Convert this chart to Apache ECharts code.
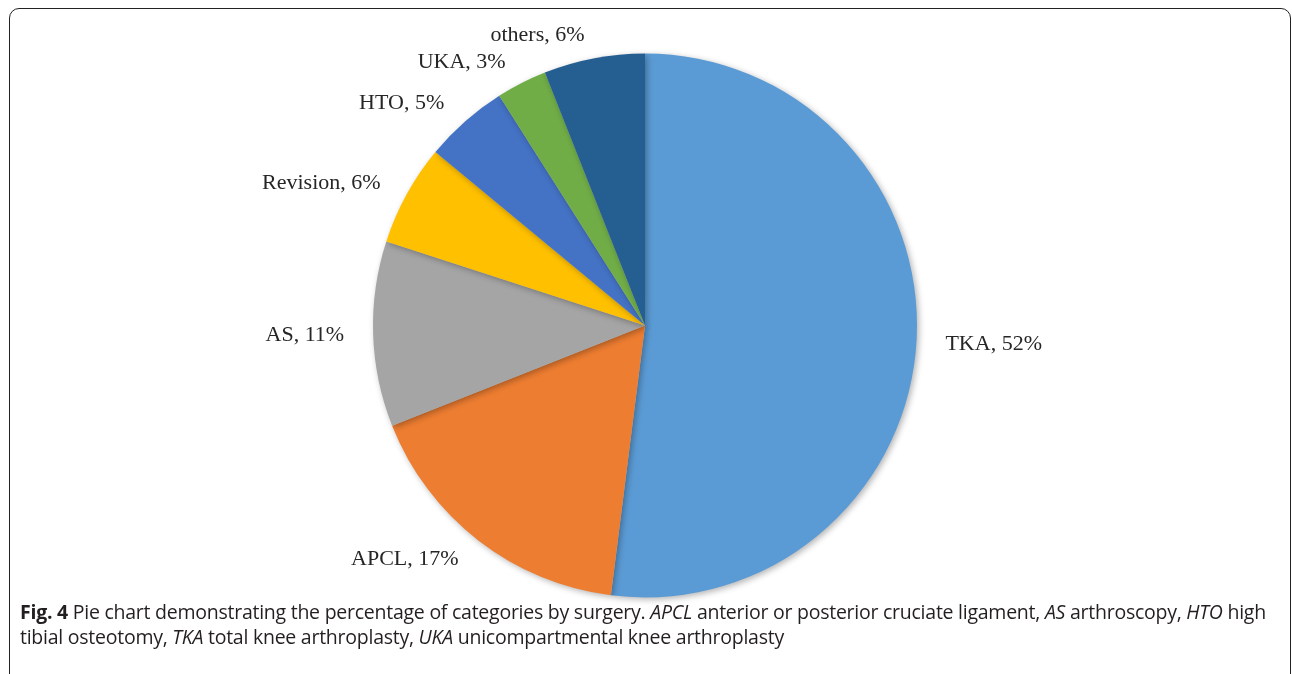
<!DOCTYPE html>
<html>
<head>
<meta charset="utf-8">
<script src="https://cdn.jsdelivr.net/npm/echarts@6/dist/echarts.min.js"></script>
<style>
  html, body { margin: 0; padding: 0; background: #fff; }
  .page { position: relative; width: 1292px; height: 674px; overflow: hidden; }
  .frame {
    position: absolute; left: 9px; top: 8px; width: 1282px; height: 700px;
    box-sizing: border-box; border: 1.5px solid #222; border-radius: 10px;
  }
  #chart { position: absolute; left: 0; top: 0; width: 1292px; height: 674px; }
  .caption {
    position: absolute; left: 20px; top: 599px; width: 1262px;
    font-family: "Open Sans", "Noto Sans", sans-serif; font-size: 19.5px; line-height: 25px;
    color: #231f20; letter-spacing: -0.25px;
  }
  .caption b { font-weight: bold; }
</style>
</head>
<body>
<div class="page">
  <div class="frame"></div>
  <div id="chart"></div>
  <div class="caption">
    <b>Fig. 4</b> Pie chart demonstrating the percentage of categories by surgery. <i>APCL</i> anterior or posterior cruciate ligament, <i>AS</i> arthroscopy, <i>HTO</i> high tibial osteotomy, <i>TKA</i> total knee arthroplasty, <i>UKA</i> unicompartmental knee arthroplasty
  </div>
</div>
<script>
// 数据
const categories = ['TKA', 'APCL', 'AS', 'Revision', 'HTO', 'UKA', 'others'];
const percents = [52, 17, 11, 6, 5, 3, 6];
const colors = ['#5B9BD5', '#ED7D31', '#A5A5A5', '#FFC000', '#4472C4', '#70AD47', '#255E91'];

const chart = echarts.init(document.getElementById('chart'));
chart.setOption({
  animation: false,
  series: [{
    type: 'pie',
    center: [645, 325.5],
    radius: 272,
    startAngle: 90,
    clockwise: true,
    avoidLabelOverlap: false,
    itemStyle: {
      shadowBlur: 6,
      shadowOffsetX: 2,
      shadowOffsetY: 2,
      shadowColor: 'rgba(0,0,0,0.3)'
    },
    label: {
      show: true,
      position: 'outside',
      formatter: '{b}, {c}%',
      fontFamily: '"Liberation Serif", "Times New Roman", serif',
      fontSize: 22,
      color: '#262626'
    },
    labelLine: {show: false, length: 24, length2: 0},
    emphasis: {disabled: true},
    data: categories.map((name, i) => ({
      name,
      value: percents[i],
      itemStyle: {color: colors[i]}
    }))
  }]
});
</script>
</body>
</html>
